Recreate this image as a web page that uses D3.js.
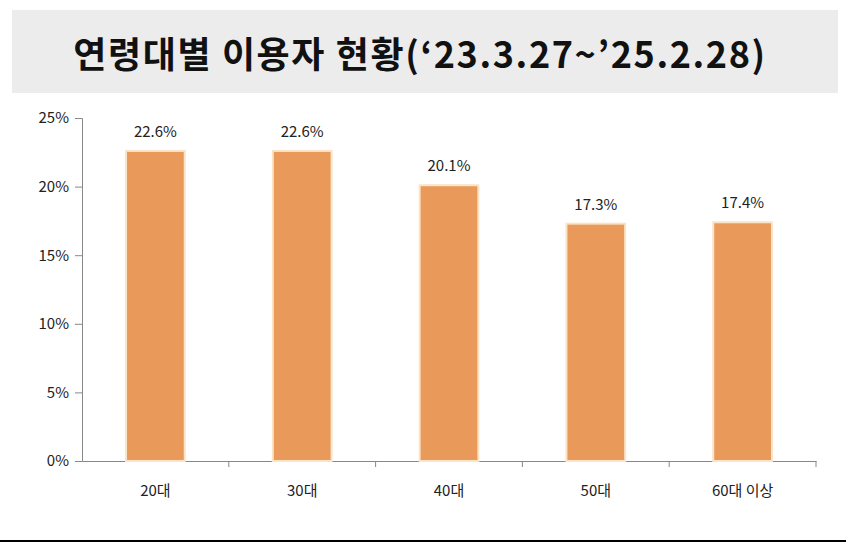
<!DOCTYPE html>
<html><head><meta charset="utf-8">
<script src="https://cdn.jsdelivr.net/npm/d3@7"></script>
<style>body{margin:0;background:#fff;font-family:"Noto Sans CJK KR","Noto Sans",sans-serif;}</style>
</head><body>
<svg id="chart" width="846" height="544"></svg>
<script>
var categories = ['20대', '30대', '40대', '50대', '60대 이상'];
var shares = [22.6, 22.6, 20.1, 17.3, 17.4];
var tickValues = [0, 5, 10, 15, 20, 25];

var svg = d3.select('#chart');

// title band
svg.append('rect').attr('x', 12).attr('y', 10).attr('width', 826).attr('height', 83).attr('fill', '#ececec');
svg.append('text').attr('x', 420).attr('y', 68).attr('text-anchor', 'middle')
    .style('font-size', '36px').style('font-weight', 'bold').style('letter-spacing', '1.6px').attr('fill', '#111')
    .text('연령대별 이용자 현황(‘23.3.27~’25.2.28)');

var x = d3.scaleBand().domain(categories).range([82, 816]).paddingInner(0.6).paddingOuter(0.3);
var y = d3.scaleLinear().domain([0, 25]).range([461, 118]);

var yAxis = svg.append('g').attr('transform', 'translate(82,0)')
    .call(d3.axisLeft(y).tickValues(tickValues).tickSize(7).tickFormat(function(d) { return d + '%'; }));
var xAxis = svg.append('g').attr('transform', 'translate(0,461)')
    .call(d3.axisBottom(x).tickSize(0).tickSizeOuter(0));
[yAxis, xAxis].forEach(function(g) {
    g.selectAll('path,line').attr('stroke', '#888');
    g.selectAll('text').attr('fill', '#222').style('font-size', '15px')
        .style('font-family', '"Noto Sans CJK KR",sans-serif');
});
yAxis.selectAll('text').attr('dx', '-3');
xAxis.selectAll('text').attr('dy', '2.1em');
// ticks between categories on x axis
var step = x.step();
categories.forEach(function(c, i) {
    var px = x(c) + x.bandwidth() / 2 + step / 2;
    svg.append('line').attr('x1', px).attr('x2', px).attr('y1', 461).attr('y2', 467).attr('stroke', '#888');
});

svg.selectAll('rect.bar').data(shares).enter().append('rect').attr('class', 'bar')
    .attr('x', function(d, i) { return x(categories[i]); })
    .attr('y', function(d) { return y(d); })
    .attr('width', x.bandwidth())
    .attr('height', function(d) { return y(0) - y(d); })
    .attr('fill', '#e99a5b').attr('stroke', '#fbe3c8').attr('stroke-width', 2);

svg.selectAll('text.lbl').data(shares).enter().append('text').attr('class', 'lbl')
    .attr('x', function(d, i) { return x(categories[i]) + x.bandwidth() / 2; })
    .attr('y', function(d) { return y(d) - 14; })
    .attr('text-anchor', 'middle').style('font-size', '15px').attr('fill', '#222')
    .text(function(d) { return d.toFixed(1) + '%'; });

svg.append('line').attr('x1', 0).attr('x2', 846).attr('y1', 541).attr('y2', 541).attr('stroke', '#000').attr('stroke-width', 2);
</script>
</body></html>
